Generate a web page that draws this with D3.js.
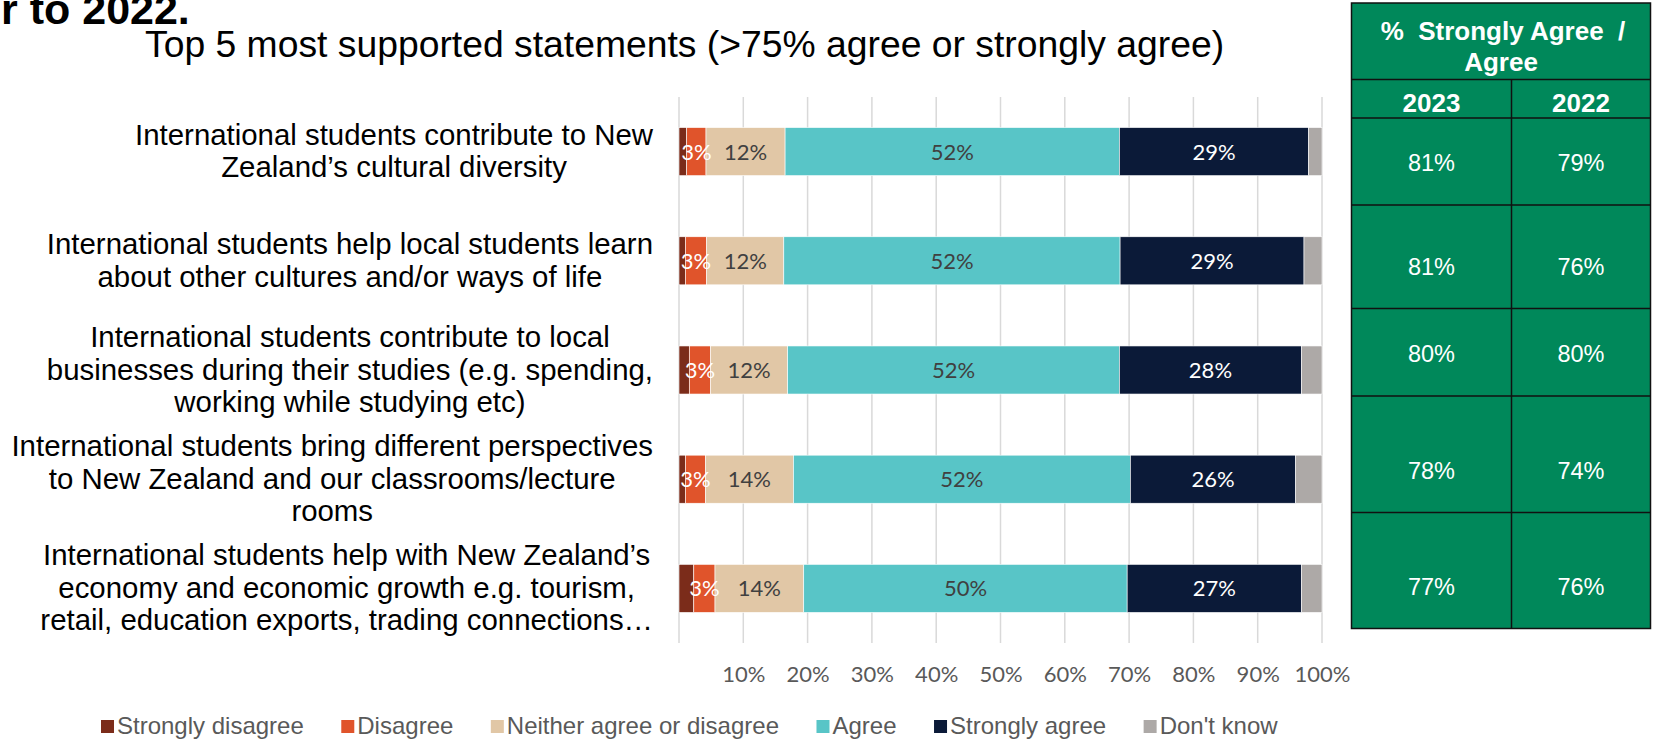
<!DOCTYPE html>
<html>
<head>
<meta charset="utf-8">
<script src="https://cdn.jsdelivr.net/npm/d3@7"></script>
<style>
  html, body { margin: 0; padding: 0; background: #ffffff; }
  svg { display: block; }
</style>
</head>
<body>
<svg id="chart" width="1653" height="739"></svg>
<script>
// ---------------- DATA ----------------
const headingFragment = "r to 2022.";
const chartTitle = "Top 5 most supported statements (>75% agree or strongly agree)";

const categories = [
  ["International students contribute to New", "Zealand\u2019s cultural diversity"],
  ["International students help local students learn", "about other cultures and/or ways of life"],
  ["International students contribute to local", "businesses during their studies (e.g. spending,", "working while studying etc)"],
  ["International students bring different perspectives", "to New Zealand and our classrooms/lecture", "rooms"],
  ["International students help with New Zealand\u2019s", "economy and economic growth e.g. tourism,", "retail, education exports, trading connections\u2026"]
];

const seriesNames = ["Strongly disagree", "Disagree", "Neither agree or disagree", "Agree", "Strongly agree", "Don't know"];
const stronglyDisagree = [1.2, 1.0, 1.6, 1.0, 2.3];
const disagree         = [3.0, 3.3, 3.3, 3.1, 3.3];
const neither          = [12.3, 12.0, 12.0, 13.7, 13.8];
const agree            = [52.0, 52.3, 51.6, 52.4, 50.3];
const stronglyAgree    = [29.4, 28.6, 28.3, 25.7, 27.1];
const dontKnow         = [2.1, 2.8, 3.2, 4.1, 3.2];

const tickValues = [10, 20, 30, 40, 50, 60, 70, 80, 90, 100];

const tableHeader = ["%  Strongly Agree  /", "Agree"];
const tableYears = ["2023", "2022"];
const agreeTotal2023 = [81, 81, 80, 78, 77];
const agreeTotal2022 = [79, 76, 80, 74, 76];

// ---------------- STYLE / LAYOUT ----------------
const colors = ["#7B2C1A", "#E0542B", "#E1C7A6", "#58C5C7", "#0B1A38", "#ADA9A7"];
const labelColors = [null, "#ffffff", "#404040", "#404040", "#ffffff", null];
const ARIAL = "'Liberation Sans', Arial, sans-serif";
const CALIBRI = "Lato, 'Open Sans', sans-serif";

const svg = d3.select("#chart");
const plot = { left: 679, right: 1322, top: 97, bottom: 643 };

const seriesArrays = [stronglyDisagree, disagree, neither, agree, stronglyAgree, dontKnow];
const rows = categories.map((c, i) => {
  const o = { idx: i };
  seriesNames.forEach((s, j) => o[s] = seriesArrays[j][i]);
  return o;
});
const stacked = d3.stack().keys(seriesNames)(rows);

const x = d3.scaleLinear().domain([0, 100]).range([plot.left, plot.right]);
const y = d3.scaleBand().domain(d3.range(categories.length))
  .range([plot.top, plot.bottom]).paddingInner(0.56).paddingOuter(0.28);

// heading fragment & title
svg.append("text").attr("x", 1).attr("y", 24)
  .attr("font-family", ARIAL).attr("font-weight", "bold").attr("font-size", 43)
  .attr("fill", "#000").text(headingFragment);
svg.append("text").attr("x", 145).attr("y", 57)
  .attr("font-family", ARIAL).attr("font-size", 37.3)
  .attr("fill", "#000").text(chartTitle);

// gridlines (including 0 line)
svg.append("g").selectAll("line").data([0].concat(tickValues)).join("line")
  .attr("x1", d => x(d)).attr("x2", d => x(d))
  .attr("y1", plot.top).attr("y2", plot.bottom)
  .attr("stroke", "#D9D9D9").attr("stroke-width", 1.5);

// x axis labels
const xAxis = d3.axisBottom(x).tickValues(tickValues).tickFormat(d => d + "%").tickSize(0).tickPadding(0);
const ax = svg.append("g").attr("transform", `translate(0,${plot.bottom})`).call(xAxis);
ax.select(".domain").remove();
ax.selectAll("text").attr("font-family", CALIBRI).attr("font-size", 22)
  .attr("fill", "#595959").attr("dy", null).attr("y", 39);

// bars
const layers = svg.append("g").selectAll("g").data(stacked).join("g")
  .attr("fill", (d, i) => colors[i]);
layers.selectAll("rect").data(d => d).join("rect")
  .attr("x", d => x(d[0])).attr("width", d => x(d[1]) - x(d[0]))
  .attr("y", (d, i) => y(i)).attr("height", y.bandwidth())
  .attr("stroke", "#ffffff").attr("stroke-width", 0.6);

// bar labels
stacked.forEach((layer, j) => {
  if (!labelColors[j]) return;
  svg.append("g").selectAll("text").data(layer).join("text")
    .attr("x", d => (x(d[0]) + x(d[1])) / 2)
    .attr("y", (d, i) => y(i) + y.bandwidth() / 2)
    .attr("dy", "0.36em")
    .attr("text-anchor", "middle")
    .attr("font-family", CALIBRI).attr("font-size", 22)
    .attr("fill", labelColors[j])
    .text(d => Math.round(d[1] - d[0]) + "%");
});

// category labels (block right-aligned, lines centred)
const labelRight = 653, lineStep = 32.5;
categories.forEach((lines, i) => {
  const g = svg.append("g");
  const cy = y(i) + y.bandwidth() / 2 + 9.5;
  const n = lines.length;
  const texts = g.selectAll("text").data(lines).join("text")
    .attr("y", (d, k) => cy + (k - (n - 1) / 2) * lineStep)
    .attr("text-anchor", "middle")
    .attr("font-family", ARIAL).attr("font-size", 29.4)
    .attr("fill", "#000").text(d => d);
  let maxW = 0;
  texts.each(function () { maxW = Math.max(maxW, this.getComputedTextLength()); });
  texts.attr("x", labelRight - maxW / 2);
});

// legend
let lx = 101;
const legend = svg.append("g");
seriesNames.forEach((s, i) => {
  legend.append("rect").attr("x", lx).attr("y", 720).attr("width", 13).attr("height", 13).attr("fill", colors[i]);
  const t = legend.append("text").attr("x", lx + 16).attr("y", 734)
    .attr("font-family", ARIAL).attr("font-size", 24).attr("fill", "#595959").text(s);
  lx += 16 + t.node().getComputedTextLength() + 37.5;
});

// table
const tbl = { left: 1351.5, mid: 1511.5, right: 1650.5 };
const headerRows = [3, 79.5, 118];
const bodyBounds = [118, 205, 308.5, 396, 512.5, 628.5];
const green = "#00885A";
const tg = svg.append("g");
tg.append("rect").attr("x", tbl.left).attr("y", headerRows[0])
  .attr("width", tbl.right - tbl.left).attr("height", bodyBounds[bodyBounds.length - 1] - headerRows[0])
  .attr("fill", green).attr("stroke", "#111").attr("stroke-width", 1.5);
[headerRows[1]].concat(bodyBounds.slice(0, -1)).forEach(yy => {
  tg.append("line").attr("x1", tbl.left).attr("x2", tbl.right).attr("y1", yy).attr("y2", yy)
    .attr("stroke", "#111").attr("stroke-width", 1.5);
});
tg.append("line").attr("x1", tbl.mid).attr("x2", tbl.mid).attr("y1", headerRows[1]).attr("y2", bodyBounds[bodyBounds.length - 1])
  .attr("stroke", "#111").attr("stroke-width", 1.5);
const hcx = (tbl.left + tbl.right) / 2;
tableHeader.forEach((h, k) => {
  tg.append("text").attr("x", hcx + (k === 0 ? 2 : 0)).attr("y", 40 + k * 30.5)
    .attr("text-anchor", "middle").attr("font-family", ARIAL).attr("font-weight", "bold")
    .attr("font-size", 26).attr("fill", "#fff").attr("xml:space", "preserve")
    .text(h);
});
const colCenters = [(tbl.left + tbl.mid) / 2, (tbl.mid + tbl.right) / 2];
tableYears.forEach((yr, k) => {
  tg.append("text").attr("x", colCenters[k]).attr("y", headerRows[2] - 6.5)
    .attr("text-anchor", "middle").attr("font-family", ARIAL).attr("font-weight", "bold")
    .attr("font-size", 26).attr("fill", "#fff").text(yr);
});
[agreeTotal2023, agreeTotal2022].forEach((arr, k) => {
  tg.selectAll(null).data(arr).join("text")
    .attr("x", colCenters[k])
    .attr("y", (d, i) => bodyBounds[i + 1] - 34)
    .attr("text-anchor", "middle").attr("font-family", ARIAL)
    .attr("font-size", 23.5).attr("fill", "#fff").text(d => d + "%");
});
</script>
</body>
</html>
